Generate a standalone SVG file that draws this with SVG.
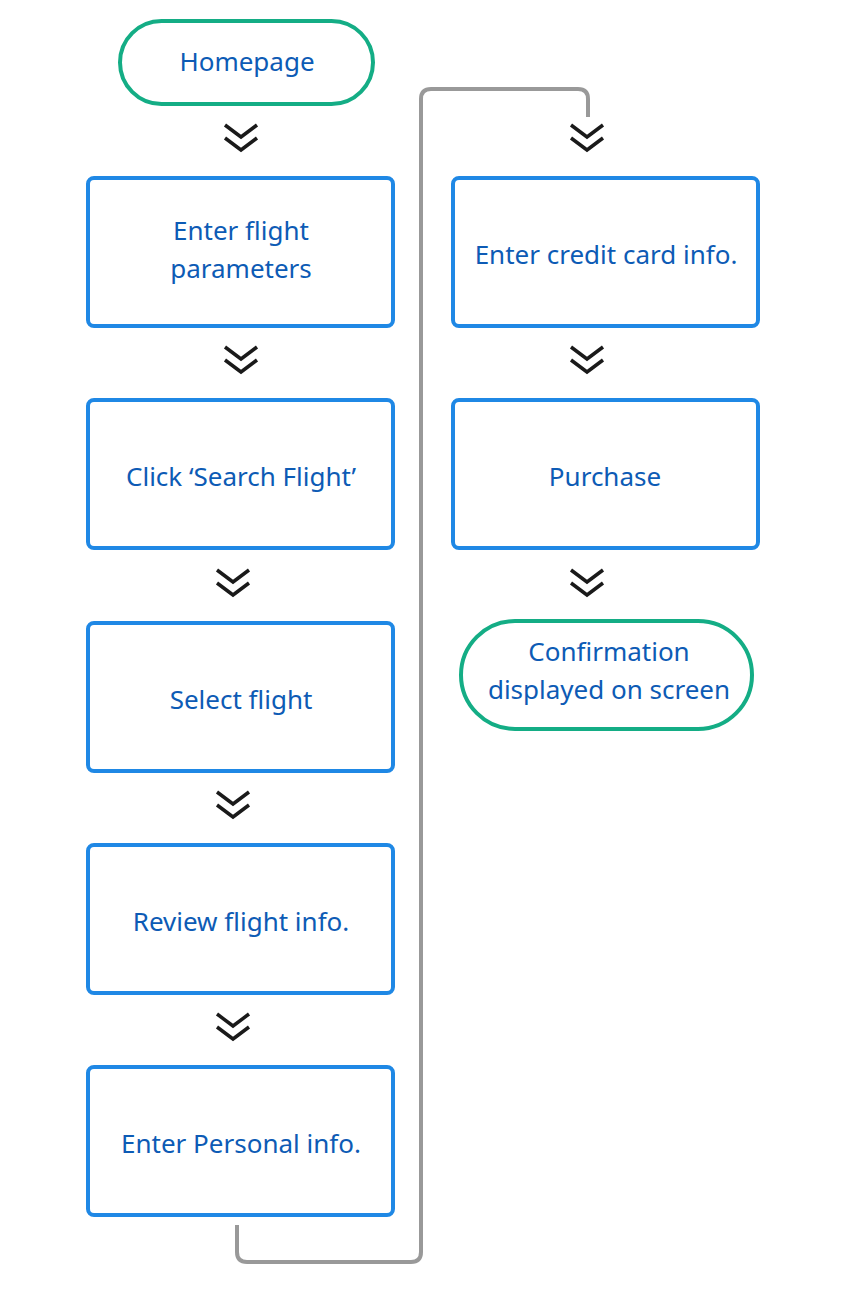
<svg xmlns="http://www.w3.org/2000/svg" width="842" height="1314" viewBox="0 0 842 1314">
<defs>
<style>
.box{fill:#fff;stroke:#1f88e5;stroke-width:4}
.pill{fill:#fff;stroke:#14ad85;stroke-width:4}
.t{font-family:"Noto Sans","Open Sans",sans-serif;font-size:26px;fill:#0d5bb5;text-anchor:middle}
.chev{fill:none;stroke:#1a1a1a;stroke-width:3.5}
.conn{fill:none;stroke:#999;stroke-width:4;stroke-linejoin:round}
</style>
<g id="chevron"><path class="chev" d="M-16,-16 L0,-4 L16,-16 M-16,-3 L0,9 L16,-3"/></g>
</defs>
<rect width="842" height="1314" fill="#fff"/>
<g id="connectors">
<path class="conn" d="M237,1225 V1252 Q237,1262 247,1262 H411 Q421,1262 421,1252 V99 Q421,89 431,89 H578 Q588,89 588,99 V117"/>
<use href="#chevron" x="241" y="141"/>
<use href="#chevron" x="241" y="363"/>
<use href="#chevron" x="233" y="586"/>
<use href="#chevron" x="233" y="808"/>
<use href="#chevron" x="233" y="1030"/>
<use href="#chevron" x="587" y="141"/>
<use href="#chevron" x="587" y="363"/>
<use href="#chevron" x="587" y="586"/>
</g>
<g id="n-home"><rect class="pill" x="120" y="21" width="253" height="83" rx="41.5"/><text class="t" x="247" y="71">Homepage</text></g>
<g id="n-params"><rect class="box" x="88" y="178" width="305" height="148" rx="6"/><text class="t" x="241" y="240">Enter flight</text><text class="t" x="241" y="278">parameters</text></g>
<g id="n-search"><rect class="box" x="88" y="400" width="305" height="148" rx="6"/><text class="t" x="241" y="486">Click ‘Search Flight’</text></g>
<g id="n-select"><rect class="box" x="88" y="623" width="305" height="148" rx="6"/><text class="t" x="241" y="709">Select flight</text></g>
<g id="n-review"><rect class="box" x="88" y="845" width="305" height="148" rx="6"/><text class="t" x="241" y="931">Review flight info.</text></g>
<g id="n-personal"><rect class="box" x="88" y="1067" width="305" height="148" rx="6"/><text class="t" x="241" y="1153">Enter Personal info.</text></g>
<g id="n-credit"><rect class="box" x="453" y="178" width="305" height="148" rx="6"/><text class="t" x="606" y="264">Enter credit card info.</text></g>
<g id="n-purchase"><rect class="box" x="453" y="400" width="305" height="148" rx="6"/><text class="t" x="605" y="486">Purchase</text></g>
<g id="n-confirm"><rect class="pill" x="461" y="621" width="291" height="108" rx="54"/><text class="t" x="609" y="661">Confirmation</text><text class="t" x="609" y="699">displayed on screen</text></g>
</svg>
